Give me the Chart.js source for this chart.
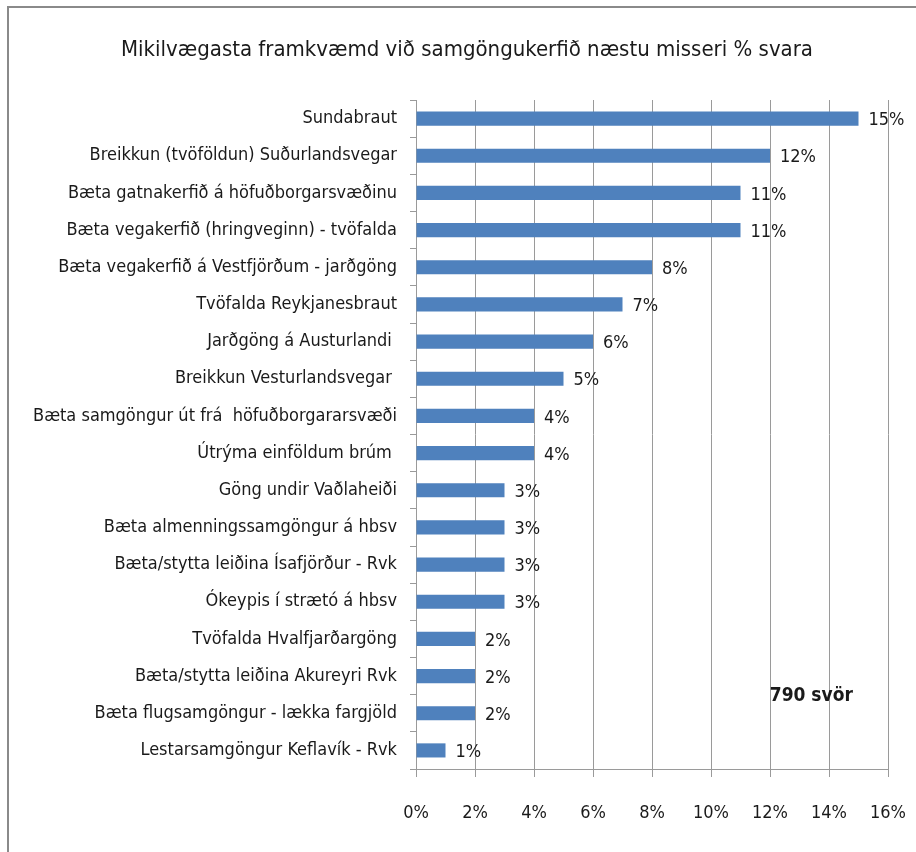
<!DOCTYPE html>
<html>
<head>
<meta charset="utf-8">
<script src="https://cdn.jsdelivr.net/npm/chart.js@4.4.1/dist/chart.umd.min.js"></script>
<style>
html,body{margin:0;padding:0;background:#fff;}
#wrap{width:916px;height:852px;position:relative;}
</style>
</head>
<body>
<div id="wrap"><canvas id="c" width="916" height="852"></canvas></div>
<script>
const titleText = "Mikilvægasta framkvæmd við samgöngukerfið næstu misseri % svara";
const categories = [
  "Sundabraut",
  "Breikkun (tvöföldun) Suðurlandsvegar",
  "Bæta gatnakerfið á höfuðborgarsvæðinu",
  "Bæta vegakerfið (hringveginn) - tvöfalda",
  "Bæta vegakerfið á Vestfjörðum - jarðgöng",
  "Tvöfalda Reykjanesbraut",
  "Jarðgöng á Austurlandi ",
  "Breikkun Vesturlandsvegar ",
  "Bæta samgöngur út frá  höfuðborgararsvæði",
  "Útrýma einföldum brúm ",
  "Göng undir Vaðlaheiði",
  "Bæta almenningssamgöngur á hbsv",
  "Bæta/stytta leiðina Ísafjörður - Rvk",
  "Ókeypis í strætó á hbsv",
  "Tvöfalda Hvalfjarðargöng",
  "Bæta/stytta leiðina Akureyri Rvk",
  "Bæta flugsamgöngur - lækka fargjöld",
  "Lestarsamgöngur Keflavík - Rvk"
];
const values = [15, 12, 11, 11, 8, 7, 6, 5, 4, 4, 3, 3, 3, 3, 2, 2, 2, 1];
const xTickValues = [0, 2, 4, 6, 8, 10, 12, 14, 16];
const noteText = "790 svör";

const FONT = "'Liberation Sans Narrow', 'DejaVu Sans Condensed', 'Liberation Sans', sans-serif";
const TEXT = '#1a1a1a';
const GRID = '#9a9a9a';

const framePlugin = {
  id: 'frame',
  beforeDraw(chart) {
    const ctx = chart.ctx;
    ctx.save();
    ctx.fillStyle = '#fff';
    ctx.fillRect(0, 0, chart.width, chart.height);
    ctx.strokeStyle = '#8a8a8a';
    ctx.lineWidth = 2;
    ctx.beginPath();
    ctx.moveTo(916, 7);
    ctx.lineTo(8, 7);
    ctx.lineTo(8, 852);
    ctx.stroke();
    // title
    ctx.font = "22px " + FONT;
    ctx.fillStyle = TEXT;
    ctx.textAlign = 'center';
    ctx.textBaseline = 'middle';
    ctx.fillText(titleText, 467, 50);
    ctx.restore();
  }
};

const valueLabels = {
  id: 'valueLabels',
  afterDatasetsDraw(chart) {
    const ctx = chart.ctx;
    const meta = chart.getDatasetMeta(0);
    ctx.save();
    ctx.font = "18px " + FONT;
    ctx.fillStyle = TEXT;
    ctx.textAlign = 'left';
    ctx.textBaseline = 'middle';
    meta.data.forEach((bar, i) => {
      ctx.fillText(values[i] + '%', bar.x + 10, bar.y + 2);
    });
    const xs = chart.scales.x, ys = chart.scales.y;
    ctx.font = "bold 19px " + FONT;
    ctx.textAlign = 'center';
    ctx.fillText(noteText, xs.getPixelForValue(13.4), (ys.getPixelForValue(15) + ys.getPixelForValue(16)) / 2 + 1);
    ctx.restore();
  }
};

new Chart(document.getElementById('c'), {
  type: 'bar',
  data: {
    labels: categories,
    datasets: [{
      data: values,
      backgroundColor: '#4F81BD',
      borderWidth: 0,
      barPercentage: 0.38,
      categoryPercentage: 1.0
    }]
  },
  options: {
    indexAxis: 'y',
    responsive: false,
    animation: false,
    layout: { padding: { left: 0, right: 28, top: 100, bottom: 0 } },
    plugins: {
      legend: { display: false },
      tooltip: { enabled: false },
      title: { display: false }
    },
    scales: {
      x: {
        type: 'linear',
        min: 0,
        max: 16,
        afterBuildTicks(scale) { scale.ticks = xTickValues.map(v => ({ value: v })); },
        afterFit(scale) { scale.height = 83; scale.paddingLeft = 0; scale.paddingRight = 0; },
        grid: { color: GRID, lineWidth: 1, drawTicks: true, tickLength: 8, tickColor: GRID },
        border: { color: GRID, width: 1 },
        ticks: {
          color: TEXT,
          padding: 26,
          font: { family: FONT, size: 18 },
          callback: (v) => v + '%'
        }
      },
      y: {
        afterFit(scale) { scale.width = 416; scale.paddingTop = 0; scale.paddingBottom = 0; },
        grid: { drawOnChartArea: false, drawTicks: true, tickLength: 6, tickColor: GRID, offset: true },
        border: { color: GRID, width: 1 },
        ticks: {
          color: TEXT,
          padding: 13,
          autoSkip: false,
          font: { family: FONT, size: 18 }
        }
      }
    }
  },
  plugins: [framePlugin, valueLabels]
});
</script>
</body>
</html>
